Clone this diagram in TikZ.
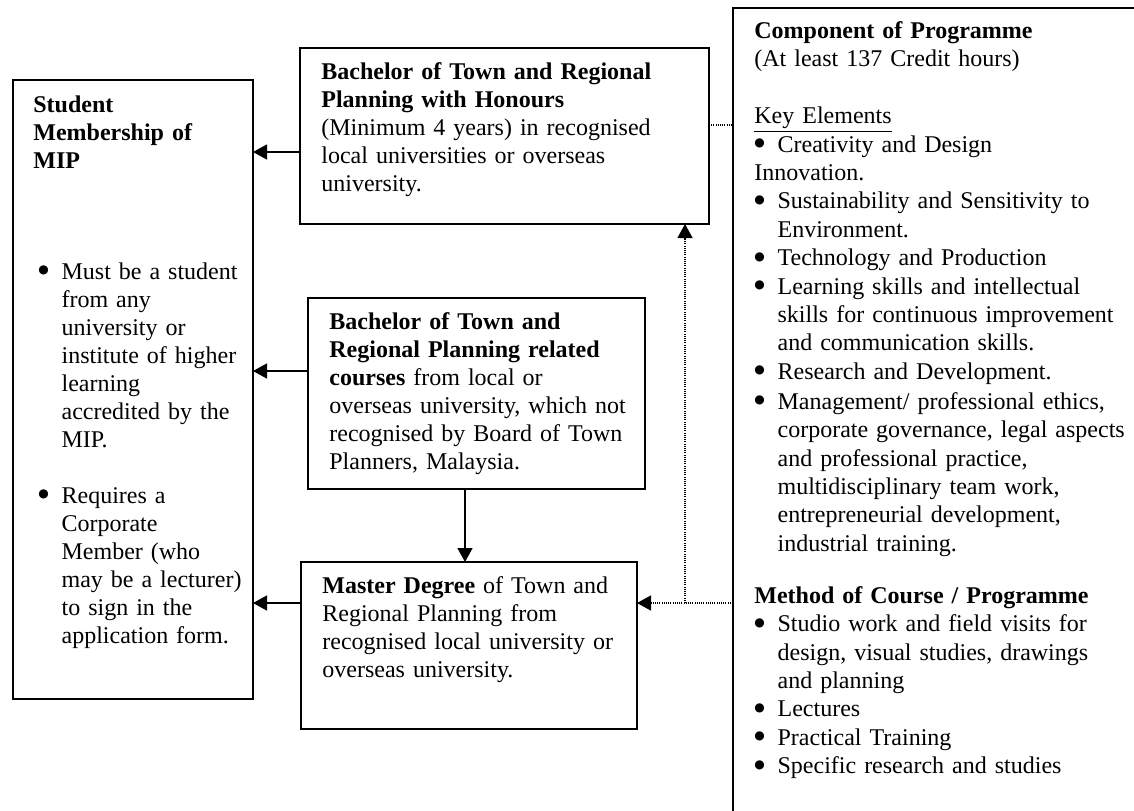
\documentclass[tikz,border=0pt]{standalone}
\usepackage{fontspec}
\setmainfont{Liberation Serif}
\newfontfamily\symfont{DejaVu Sans}
\usetikzlibrary{arrows.meta}
% bullet with hanging indent, as in the Word lists
\newcommand{\bul}{\makebox[11.6pt][l]{\raisebox{2.8pt}{\symfont\fontsize{6}{6}\selectfont ●}}}
\newcommand{\ind}{\hspace*{11.6pt}}

\begin{document}
\begin{tikzpicture}[x=0.5pt, y=-0.5pt,
    box/.style={draw, line width=1pt, inner sep=0pt, outer sep=0pt, anchor=north west},
    txt/.style={anchor=base west, inner sep=0pt, align=left, text width=#1,
        font=\fontsize{12}{14}\selectfont},
    arr/.style={-{Triangle[length=7pt, width=7.5pt]}, line width=0.65pt},
    dotline/.style={line width=0.6pt, dash pattern=on 0.5pt off 0.6pt},
    dotarr/.style={arr, dash pattern=on 0.5pt off 0.6pt}]

    % page
    \useasboundingbox (0,0) rectangle (1134,810);
    \fill[white] (0,0) rectangle (1134,810);
    \clip (0,0) rectangle (1134,810);

    % boxes
    \node[box, minimum width=120pt, minimum height=309.5pt] (stud) at (13,80) {};
    \node[box, minimum width=204.5pt, minimum height=88pt] (bach) at (300,48) {};
    \node[box, minimum width=168.5pt, minimum height=95.5pt] (rel) at (308,298) {};
    \node[box, minimum width=168pt, minimum height=83.5pt] (mast) at (301,562) {};
    \node[box, minimum width=210pt, minimum height=415pt] (comp) at (733,8) {};

    % student membership
    \node[txt=110pt] (tstud) at (33,112.7) {\textbf{Student}\\ \textbf{Membership of}\\ \textbf{MIP}\\[41.25pt]
        \hspace*{2.5pt}\bul Must be a student\\ \hspace*{2.5pt}\ind from any\\
        \hspace*{2.5pt}\ind university or\\ \hspace*{2.5pt}\ind institute of higher\\
        \hspace*{2.5pt}\ind learning\\ \hspace*{2.5pt}\ind accredited by the\\
        \hspace*{2.5pt}\ind MIP.\\[14pt]
        \hspace*{2.5pt}\bul Requires a\\ \hspace*{2.5pt}\ind Corporate\\
        \hspace*{2.5pt}\ind Member (who\\ \hspace*{2.5pt}\ind may be a lecturer)\\
        \hspace*{2.5pt}\ind to sign in the\\ \hspace*{2.5pt}\ind application form.};

    % degrees
    \node[txt=200pt] (tbach) at (321,79) {\textbf{Bachelor of Town and Regional}\\
        \textbf{Planning with Honours}\\ (Minimum 4 years) in recognised\\
        local universities or overseas\\ university.};
    \node[txt=165pt] (trel) at (329,329.3) {\textbf{Bachelor of Town and}\\
        \textbf{Regional Planning related}\\ \textbf{courses} from local or\\
        overseas university, which not\\ recognised by Board of Town\\ Planners, Malaysia.};
    \node[txt=165pt] (tmast) at (322,593) {\textbf{Master Degree} of Town and\\
        Regional Planning from\\ recognised local university or\\ overseas university.};

    % programme components
    \node[txt=200pt, font=\fontsize{12}{14.2}\selectfont] (tcomp) at (754,38.5) {\textbf{Component of Programme}\\
        (At least 137 Credit hours)\\[14.2pt]
        \underline{Key Elements}\\
        \bul Creativity and Design\\ Innovation.\\
        \bul Sustainability and Sensitivity to\\ \ind Environment.\\
        \bul Technology and Production\\
        \bul Learning skills and intellectual\\ \ind skills for continuous improvement\\
        \ind and communication skills.\\
        \bul Research and Development.\\[0.8pt]
        \bul Management/ professional ethics,\\ \ind corporate governance, legal aspects\\
        \ind and professional practice,\\ \ind multidisciplinary team work,\\
        \ind entrepreneurial development,\\ \ind industrial training.\\[11.8pt]
        \textbf{Method of Course / Programme}\\
        \bul Studio work and field visits for\\ \ind design, visual studies, drawings\\
        \ind and planning\\ \bul Lectures\\ \bul Practical Training\\
        \bul Specific research and studies};

    % arrows to membership
    \draw[arr] ([yshift=-8pt]bach.west) -- ([yshift=-8pt]bach.west -| stud.east);
    \draw[arr] ([yshift=11.25pt]rel.west) -- ([yshift=11.25pt]rel.west -| stud.east);
    \draw[arr] ([yshift=21.25pt]mast.west) -- ([yshift=21.25pt]mast.west -| stud.east);
    \draw[arr] ([xshift=-5.75pt]rel.south) -- ([xshift=-5.75pt]rel.south |- mast.north);

    % dotted links from the programme box
    \coordinate (jn) at (685,603);
    \draw[dotarr] (jn -| comp.west) -- (jn -| mast.east);
    \draw[dotarr] (jn) -- (jn |- bach.south);
    \draw[dotline] ([yshift=5.5pt]bach.east) -- ([yshift=5.5pt]bach.east -| comp.west);
\end{tikzpicture}
\end{document}
